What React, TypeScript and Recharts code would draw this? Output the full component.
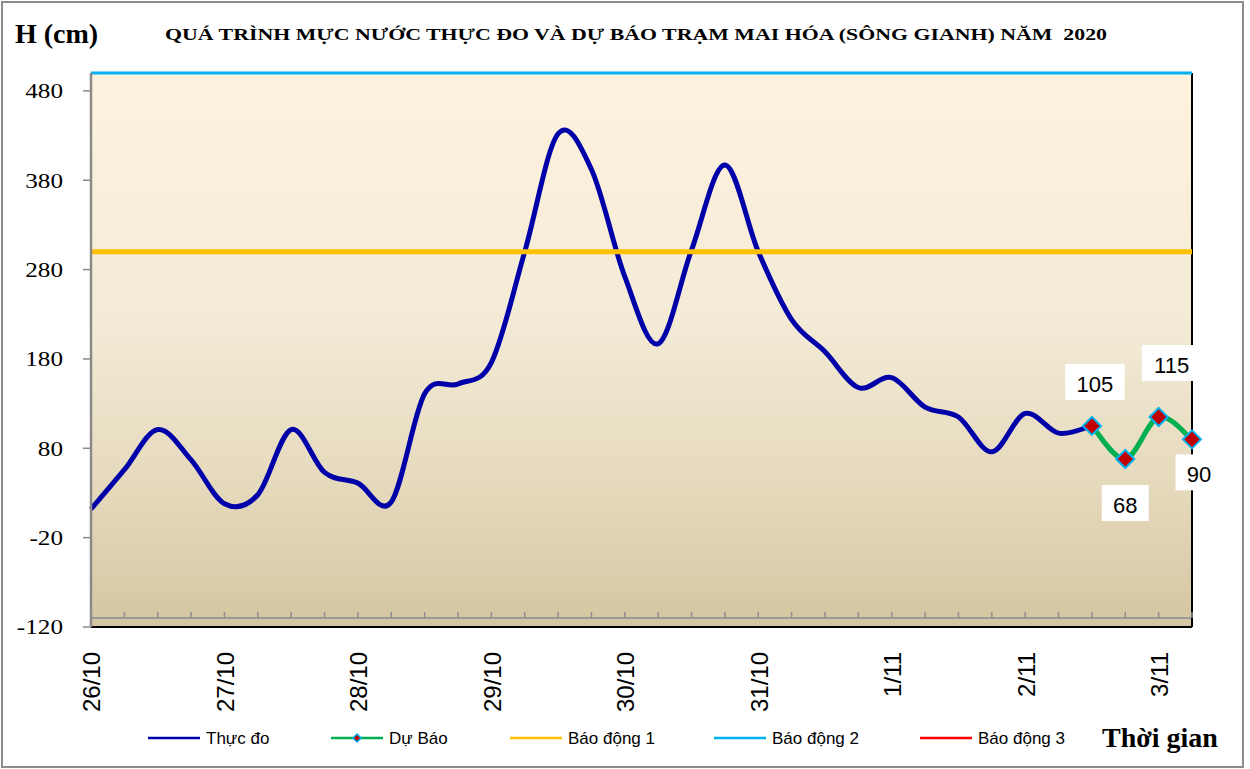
import React from 'react';
import {
    ComposedChart, Line, XAxis, YAxis, CartesianGrid, ReferenceLine, LabelList,
} from 'recharts';

// Mốc thời gian: 4 mốc mỗi ngày (6 giờ một mốc)
const dayLabels = ['26/10', '27/10', '28/10', '29/10', '30/10', '31/10', '1/11', '2/11', '3/11'];
const hourLabels = ['1h', '7h', '13h', '19h'];

// Mực nước thực đo (cm)
const thucDo = [
    12, 56, 101, 67, 18, 28, 101, 53, 41, 20,
    141, 152, 176, 300, 432, 392, 272, 197, 302, 397,
    300, 224, 188, 148, 159, 126, 115, 76, 119, 97,
    105, null, null, null,
];

// Mực nước dự báo (cm)
const duBao = [
    null, null, null, null, null, null, null, null, null, null,
    null, null, null, null, null, null, null, null, null, null,
    null, null, null, null, null, null, null, null, null, null,
    105, 68, 115, 90,
];

const yTicks = [-120, -20, 80, 180, 280, 380, 480];
const baoDong1 = 300;
const baoDong2 = 500;

const timeKeys = dayLabels.flatMap(d => hourLabels.map(h => `${d} ${h}`)).slice(0, thucDo.length);

const data = timeKeys.map((t, i) => ({ t, thucDo: thucDo[i], duBao: duBao[i] }));

// vị trí nhãn giá trị dự báo so với điểm (dx, dy baseline)
const labelPos: Record<number, [number, number]> = {
    30: [3, -34],
    31: [0, 54],
    32: [13, -44],
    33: [7, 43],
};

// đường cong trơn kiểu Excel (Catmull-Rom)
// eslint-disable-next-line @typescript-eslint/no-explicit-any
const excelSmooth = (ctx: any) => {
    let pts: number[][] = [];
    return {
        areaStart() {},
        areaEnd() {},
        lineStart() { pts = []; },
        point(x: number, y: number) { pts.push([+x, +y]); },
        lineEnd() {
            if (!pts.length) return;
            ctx.moveTo(pts[0][0], pts[0][1]);
            for (let i = 0; i < pts.length - 1; i++) {
                const p0 = pts[i - 1] || pts[i];
                const p1 = pts[i];
                const p2 = pts[i + 1];
                const p3 = pts[i + 2] || p2;
                ctx.bezierCurveTo(
                    p1[0] + (p2[0] - p0[0]) / 6, p1[1] + (p2[1] - p0[1]) / 6,
                    p2[0] - (p3[0] - p1[0]) / 6, p2[1] - (p3[1] - p1[1]) / 6,
                    p2[0], p2[1],
                );
            }
        },
    };
};

// eslint-disable-next-line @typescript-eslint/no-explicit-any
function XTick({ x, y, payload, index }: any) {
    const idx = payload?.index ?? index;
    return (
        <g>
            <line x1={x} x2={x} y1={y - 15} y2={y - 9} stroke="#8f8f8f" strokeWidth={1.5} />
            {idx % 4 === 0 && (
                <text
                    transform={`translate(${x + 1},${y + 25}) rotate(-90)`}
                    textAnchor="end" dy="0.35em"
                    fontSize={24} fontFamily="'Liberation Sans', Arial" fill="#000"
                >
                    {String(payload.value).split(' ')[0]}
                </text>
            )}
        </g>
    );
}

// eslint-disable-next-line @typescript-eslint/no-explicit-any
function YTick({ x, y, payload }: any) {
    return (
        <text
            transform={`translate(${x},${y}) scale(1.2,1)`}
            textAnchor="end" dy="0.35em"
            fontSize={21} fontFamily="'Liberation Serif', 'Times New Roman'" fill="#000"
        >
            {payload.value}
        </text>
    );
}

// eslint-disable-next-line @typescript-eslint/no-explicit-any
function Diamond({ cx, cy, index }: any) {
    if (cx == null || cy == null || duBao[index] == null) return <g key={`d-${index}`} />;
    const r = 9;
    return (
        <polygon
            key={`d-${index}`}
            points={`${cx},${cy - r} ${cx + r},${cy} ${cx},${cy + r} ${cx - r},${cy}`}
            fill="#C00000" stroke="#00B0F0" strokeWidth={2}
        />
    );
}

// eslint-disable-next-line @typescript-eslint/no-explicit-any
function ValueLabel({ x, y, value, index }: any) {
    if (value == null || x == null) return null;
    const [dx, dy] = labelPos[index] || [0, -30];
    const text = String(value);
    const w = text.length * 12.5 + 22;
    const cx = x + dx;
    const by = y + dy;
    return (
        <g>
            <rect x={cx - w / 2} y={by - 28} width={w} height={36} fill="#fff" />
            <text x={cx} y={by} textAnchor="middle" fontSize={22} fontFamily="'Liberation Sans', Arial" fill="#000">
                {text}
            </text>
        </g>
    );
}

const legendItems = [
    { label: 'Thực đo', color: '#0000A8', x: 148 },
    { label: 'Dự Báo', color: '#00B050', x: 331, marker: true },
    { label: 'Báo động 1', color: '#FFC000', x: 510 },
    { label: 'Báo động 2', color: '#00B0F0', x: 714 },
    { label: 'Báo động 3', color: '#FF0000', x: 920 },
];

export default function App() {
    return (
        <div style={{ position: 'absolute', left: 0, top: 0, width: 1250, height: 769, background: '#fff' }}>
            <ComposedChart
                width={1250} height={769} data={data}
                margin={{ top: 73, right: 58, left: 31, bottom: 52 }}
            >
                <defs>
                    <linearGradient id="plotBg" x1="0" y1="0" x2="0" y2="1">
                        <stop offset="0%" stopColor="#FEF2DE" />
                        <stop offset="45%" stopColor="#F3EBD6" />
                        <stop offset="75%" stopColor="#E5D9BC" />
                        <stop offset="100%" stopColor="#D5C6A1" />
                    </linearGradient>
                </defs>
                <CartesianGrid horizontal={false} vertical={false} fill="url(#plotBg)" />
                <XAxis
                    dataKey="t" interval={0} height={90}
                    tickSize={0} tickMargin={0} tickLine={false}
                    axisLine={{ stroke: '#000', strokeWidth: 2 }}
                    tick={<XTick />}
                />
                <YAxis
                    width={60} domain={[-120, 500]} ticks={yTicks} allowDataOverflow
                    tickSize={8} tickMargin={20}
                    tickLine={{ stroke: '#8a8a8a', strokeWidth: 1.5 }}
                    axisLine={{ stroke: '#8a8a8a', strokeWidth: 2.5 }}
                    tick={<YTick />}
                />
                <ReferenceLine y={-110} stroke="#9a9a9a" strokeWidth={2} />
                <ReferenceLine x={timeKeys[timeKeys.length - 1]} stroke="#000" strokeWidth={2} />
                <Line
                    dataKey="thucDo" type={excelSmooth} stroke="#0000A8" strokeWidth={5}
                    dot={false} activeDot={false} isAnimationActive={false}
                />
                <Line
                    dataKey="duBao" type={excelSmooth} stroke="#00B050" strokeWidth={5}
                    dot={<Diamond />} activeDot={false} isAnimationActive={false}
                >
                    <LabelList dataKey="duBao" content={<ValueLabel />} />
                </Line>
                <ReferenceLine y={baoDong1} stroke="#FFC000" strokeWidth={5} />
                <ReferenceLine y={baoDong2} stroke="#00B0F0" strokeWidth={3} />
            </ComposedChart>

            <svg width={1250} height={769} style={{ position: 'absolute', left: 0, top: 0, pointerEvents: 'none' }}>
                <rect x={2} y={2} width={1241} height={765} fill="none" stroke="#8c8c8c" strokeWidth={2} />
                <text x={15} y={43} fontSize={28} fontWeight="bold" fontFamily="'Liberation Serif', 'Times New Roman'">
                    H (cm)
                </text>
                <text
                    x={165} y={40} fontSize={17} fontWeight="bold"
                    fontFamily="'Liberation Serif', 'Times New Roman'"
                    textLength={942} lengthAdjust="spacingAndGlyphs"
                    style={{ whiteSpace: 'pre' }}
                >
                    {'QUÁ TRÌNH MỰC NƯỚC THỰC ĐO VÀ DỰ BÁO TRẠM MAI HÓA (SÔNG GIANH) NĂM  2020'}
                </text>
                {legendItems.map(it => (
                    <g key={it.label}>
                        <line x1={it.x} x2={it.x + 52} y1={738} y2={738} stroke={it.color} strokeWidth={2.5} />
                        {it.marker && (
                            <polygon
                                points={`${it.x + 26},${734} ${it.x + 30},${738} ${it.x + 26},${742} ${it.x + 22},${738}`}
                                fill="#C00000" stroke="#00B0F0" strokeWidth={1.5}
                            />
                        )}
                        <text x={it.x + 58} y={744} fontSize={17} fontFamily="'Liberation Sans', Arial" fill="#000">
                            {it.label}
                        </text>
                    </g>
                ))}
                <text x={1102} y={747} fontSize={28} fontWeight="bold" fontFamily="'Liberation Serif', 'Times New Roman'">
                    Thời gian
                </text>
            </svg>
        </div>
    );
}
